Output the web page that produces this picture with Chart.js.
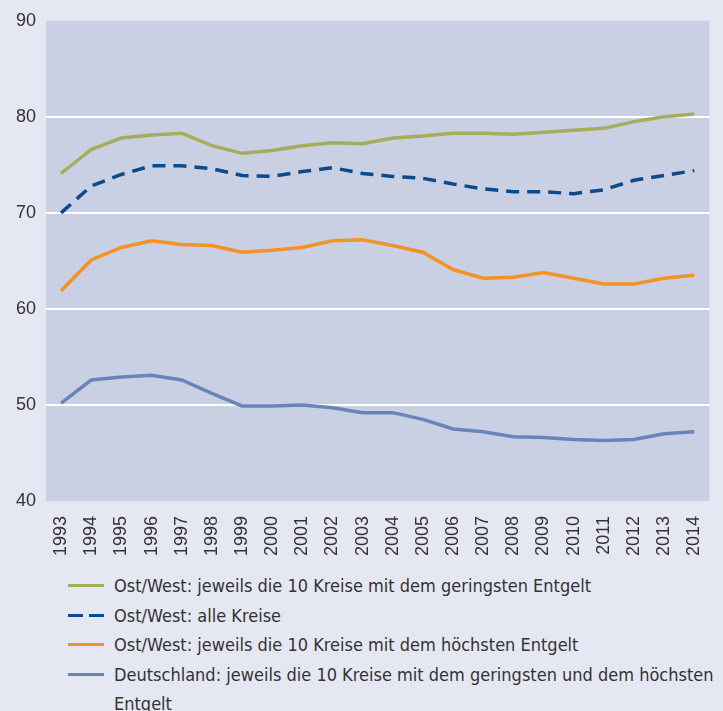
<!DOCTYPE html>
<html>
<head>
<meta charset="utf-8">
<script src="https://cdn.jsdelivr.net/npm/chart.js@4"></script>
<style>
  html, body { margin: 0; padding: 0; background: #e5e8f3; }
  #wrap { position: relative; width: 723px; height: 711px; background: #e5e8f3; }
  #box { position: absolute; left: 0; top: 0; width: 723px; height: 556px; }
  #legend { position: absolute; left: 0; top: 571px; width: 723px;
    font-family: "DejaVu Sans Condensed", sans-serif;
    font-size: 18px; color: #333; line-height: 29.5px; }
  .row { position: relative; padding-left: 114px; }
  .key { position: absolute; left: 68px; top: 13px; width: 36px; height: 3px; }
</style>
</head>
<body>
<div id="wrap">
  <div id="box"><canvas id="myChart"></canvas></div>
  <div id="legend"></div>
</div>
<script>
var years = ["1993","1994","1995","1996","1997","1998","1999","2000","2001","2002","2003",
  "2004","2005","2006","2007","2008","2009","2010","2011","2012","2013","2014"];

var owLow = [74.1, 76.6, 77.8, 78.1, 78.3, 77.0, 76.2, 76.5, 77.0, 77.3, 77.2,
  77.8, 78.0, 78.3, 78.3, 78.2, 78.4, 78.6, 78.8, 79.5, 80.0, 80.3];
var owAll = [70.0, 72.8, 74.0, 74.9, 74.9, 74.6, 73.9, 73.8, 74.3, 74.7, 74.1,
  73.8, 73.6, 73.0, 72.5, 72.2, 72.2, 72.0, 72.4, 73.4, 73.9, 74.4];
var owHigh = [61.9, 65.1, 66.4, 67.1, 66.7, 66.6, 65.9, 66.1, 66.4, 67.1, 67.2,
  66.6, 65.9, 64.1, 63.2, 63.3, 63.8, 63.2, 62.6, 62.6, 63.2, 63.5];
var deutschland = [50.2, 52.6, 52.9, 53.1, 52.6, 51.2, 49.9, 49.9, 50.0, 49.7, 49.2,
  49.2, 48.5, 47.5, 47.2, 46.7, 46.6, 46.4, 46.3, 46.4, 47.0, 47.2];

var names = [
  "Ost/West: jeweils die 10 Kreise mit dem geringsten Entgelt",
  "Ost/West: alle Kreise",
  "Ost/West: jeweils die 10 Kreise mit dem höchsten Entgelt",
  "Deutschland: jeweils die 10 Kreise mit dem geringsten und dem höchsten<br>Entgelt"
];
var colors = ["#a4ad5b", "#0b4a8b", "#f39325", "#6a84bb"];

var tickFont = { family: "'Liberation Sans', Arial, sans-serif", size: 18 };

var bgPlugin = {
  id: "bg",
  beforeDraw: function (chart) {
    var c = chart.ctx, a = chart.chartArea;
    c.save();
    c.fillStyle = "#e5e8f3";
    c.fillRect(0, 0, chart.width, chart.height);
    c.fillStyle = "#cad0e3";
    c.fillRect(a.left, a.top, a.right - a.left, a.bottom - a.top);
    c.restore();
  }
};

var ctx = document.getElementById("myChart");

new Chart(ctx, {
  type: "line",
  data: {
    labels: years,
    datasets: [
      { label: names[0], data: owLow, borderColor: colors[0], borderWidth: 3.5 },
      { label: names[1], data: owAll, borderColor: colors[1], borderWidth: 3.5, borderDash: [13, 8] },
      { label: names[2], data: owHigh, borderColor: colors[2], borderWidth: 3.5 },
      { label: names[3], data: deutschland, borderColor: colors[3], borderWidth: 3.5 }
    ]
  },
  options: {
    responsive: true,
    maintainAspectRatio: false,
    animation: false,
    layout: { padding: { top: 17.5, right: 5, left: 0, bottom: 0 } },
    elements: { point: { radius: 0 }, line: { tension: 0 } },
    plugins: { legend: { display: false }, tooltip: { enabled: false } },
    scales: {
      x: {
        offset: true,
        grid: { display: false },
        border: { display: false },
        ticks: { minRotation: 90, maxRotation: 90, padding: 7, color: "#333", font: tickFont },
        afterFit: function (s) { s.height = 55; }
      },
      y: {
        min: 40, max: 90,
        border: { display: false },
        grid: {
          drawTicks: false, lineWidth: 2,
          color: function (c) { return (c.tick.value === 40 || c.tick.value === 90) ? "rgba(0,0,0,0)" : "#ffffff"; }
        },
        ticks: { stepSize: 10, padding: 10, color: "#333", font: tickFont },
        afterFit: function (s) { s.width = 46; }
      }
    }
  },
  plugins: [bgPlugin]
});

// legend below the chart, as html text
var lg = document.getElementById("legend");
names.forEach(function (n, i) {
  var row = document.createElement("div");
  row.className = "row";
  var key = document.createElement("span");
  key.className = "key";
  if (i === 1) {
    key.style.background = "repeating-linear-gradient(to right, " + colors[i] + " 0 15px, transparent 15px 21px)";
  } else {
    key.style.background = colors[i];
  }
  row.appendChild(key);
  row.insertAdjacentHTML("beforeend", n);
  lg.appendChild(row);
});
</script>
</body>
</html>
